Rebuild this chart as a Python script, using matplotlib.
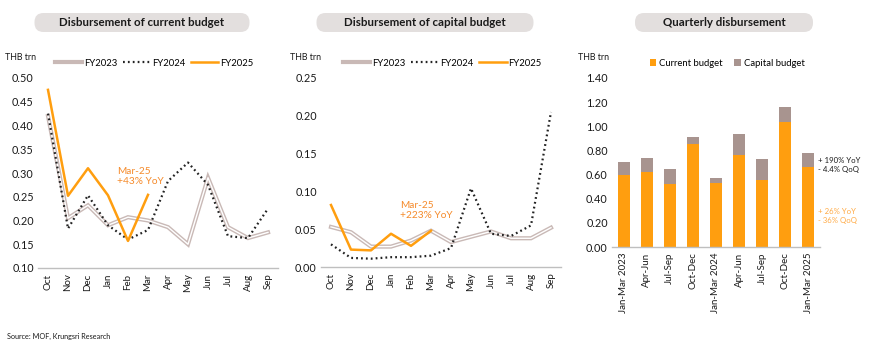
import matplotlib.pyplot as plt
from matplotlib.patches import FancyBboxPatch

plt.rcParams['font.family'] = ['Lato', 'DejaVu Sans']

months = ['Oct', 'Nov', 'Dec', 'Jan', 'Feb', 'Mar', 'Apr', 'May', 'Jun', 'Jul', 'Aug', 'Sep']

cur_fy2023 = [0.42, 0.205, 0.232, 0.19, 0.207, 0.20, 0.186, 0.15, 0.29, 0.186, 0.163, 0.175]
cur_fy2024 = [0.425, 0.183, 0.253, 0.19, 0.16, 0.18, 0.283, 0.322, 0.275, 0.167, 0.163, 0.225]
cur_fy2025 = [0.475, 0.252, 0.31, 0.253, 0.157, 0.254]

cap_fy2023 = [0.053, 0.046, 0.027, 0.027, 0.035, 0.048, 0.033, 0.040, 0.047, 0.038, 0.038, 0.052]
cap_fy2024 = [0.030, 0.012, 0.011, 0.013, 0.013, 0.015, 0.025, 0.104, 0.044, 0.041, 0.055, 0.205]
cap_fy2025 = [0.082, 0.023, 0.022, 0.044, 0.028, 0.048]

quarters = ['Jan-Mar 2023', 'Apr-Jun', 'Jul-Sep', 'Oct-Dec', 'Jan-Mar 2024',
            'Apr-Jun', 'Jul-Sep', 'Oct-Dec', 'Jan-Mar 2025']
q_current = [0.60, 0.625, 0.52, 0.855, 0.528, 0.76, 0.555, 1.033, 0.66]
q_capital = [0.105, 0.112, 0.125, 0.055, 0.042, 0.173, 0.175, 0.127, 0.12]

ORANGE = '#FF9E0F'
GREY23 = '#c9b9b6'
CAPGREY = '#a8948f'
TXT = '#1a1a1a'

fig = plt.figure(figsize=(8.7, 3.58), dpi=100)


def px_axes(left, top, right, bottom):
    W, H = 870, 358
    return fig.add_axes([left / W, 1 - bottom / H, (right - left) / W, (bottom - top) / H])


def style(ax):
    for s in ['top', 'right', 'left']:
        ax.spines[s].set_visible(False)
    ax.spines['bottom'].set_color('#bfbfbf')
    ax.spines['bottom'].set_linewidth(1.0)
    ax.tick_params(length=0, labelsize=7.8, colors=TXT, pad=3)
    ax.tick_params(axis='x', labelsize=7, pad=4)


def title_box(cx, cy, w, text):
    x0 = (cx - w / 2) / 100
    y0 = (358 - cy - 9.5) / 100
    p = FancyBboxPatch((x0, y0), w / 100, 0.19, boxstyle='round,pad=0,rounding_size=0.09',
                       transform=fig.dpi_scale_trans, facecolor='#e3dfde', edgecolor='none')
    fig.patches.append(p)
    fig.text(cx / 870, 1 - cy / 358, text, ha='center', va='center', fontsize=8.3,
             fontweight='bold', color=TXT)


def line_panel(ax, d23, d24, d25):
    x = range(len(months))
    ax.plot(x, d23, color=GREY23, lw=3.0, solid_joinstyle='miter', label='FY2023')
    ax.plot(x, d23, color='white', lw=1.0)
    ax.plot(x, d24, color='#222222', lw=1.6, ls=(0, (0.8, 1.4)), label='FY2024')
    ax.plot(range(len(d25)), d25, color=ORANGE, lw=1.8, label='FY2025')
    ax.set_xticks(list(x))
    ax.set_xticklabels(months, rotation=90)
    ax.set_xlim(-0.5, 11.5)
    h, l = ax.get_legend_handles_labels()
    return h, l


# panel 1
ax1 = px_axes(38, 78, 278, 268)
style(ax1)
h, l = line_panel(ax1, cur_fy2023, cur_fy2024, cur_fy2025)
ax1.set_ylim(0.10, 0.50)
ax1.set_yticks([0.10, 0.15, 0.20, 0.25, 0.30, 0.35, 0.40, 0.45, 0.50])
ax1.yaxis.set_major_formatter(plt.FuncFormatter(lambda v, p: f'{v:.2f}'))
ax1.legend(h, l, loc='center left', bbox_to_anchor=(50 / 870, 1 - 63 / 358),
           bbox_transform=fig.transFigure, ncol=3, frameon=False, fontsize=6.8,
           handlelength=2.9, handletextpad=0.2, columnspacing=0.6, borderpad=0)
ax1.annotate('Mar-25\n+43% YoY', xy=(3.45, 0.272), fontsize=7.3, color='#F58A2A',
             ha='left', va='bottom', linespacing=1.15)
fig.text(5 / 870, 1 - 57 / 358, 'THB trn', fontsize=6.4, color=TXT, va='center')
title_box(142, 22.5, 215, 'Disbursement of current budget')

# panel 2
ax2 = px_axes(321, 78, 561, 267)
style(ax2)
h, l = line_panel(ax2, cap_fy2023, cap_fy2024, cap_fy2025)
ax2.set_ylim(0.0, 0.25)
ax2.set_yticks([0.0, 0.05, 0.10, 0.15, 0.20, 0.25])
ax2.yaxis.set_major_formatter(plt.FuncFormatter(lambda v, p: f'{v:.2f}'))
ax2.legend(h, l, loc='center left', bbox_to_anchor=(338 / 870, 1 - 63 / 358),
           bbox_transform=fig.transFigure, ncol=3, frameon=False, fontsize=6.8,
           handlelength=2.9, handletextpad=0.2, columnspacing=0.6, borderpad=0)
ax2.annotate('Mar-25\n+223% YoY', xy=(3.45, 0.062), fontsize=7.3, color='#F58A2A',
             ha='left', va='bottom', linespacing=1.15)
fig.text(290 / 870, 1 - 57 / 358, 'THB trn', fontsize=6.4, color=TXT, va='center')
title_box(425, 22.5, 217, 'Disbursement of capital budget')

# panel 3
ax3 = px_axes(612, 78, 820, 247)
style(ax3)
xq = range(len(quarters))
ax3.bar(xq, q_current, width=0.52, color=ORANGE, label='Current budget')
ax3.bar(xq, q_capital, width=0.52, bottom=q_current, color=CAPGREY, label='Capital budget')
ax3.set_xticks(list(xq))
ax3.set_xticklabels(quarters, rotation=90)
ax3.set_xlim(-0.5, 8.5)
ax3.set_ylim(0, 1.40)
ax3.set_yticks([0, 0.2, 0.4, 0.6, 0.8, 1.0, 1.2, 1.4])
ax3.yaxis.set_major_formatter(plt.FuncFormatter(lambda v, p: f'{v:.2f}'))
ax3.legend(loc='center left', bbox_to_anchor=(645 / 870, 1 - 63 / 358),
           bbox_transform=fig.transFigure, ncol=2, frameon=False, fontsize=6.8,
           handlelength=0.7, handleheight=0.7, handletextpad=0.3, columnspacing=1.2,
           borderpad=0)
fig.text(578 / 870, 1 - 57 / 358, 'THB trn', fontsize=6.4, color=TXT, va='center')
fig.text(818 / 870, 1 - 165 / 358, '+ 190% YoY\n- 4.4% QoQ', fontsize=5.6, color=TXT,
         va='center', ha='left', linespacing=1.3)
fig.text(818 / 870, 1 - 216 / 358, '+ 26% YoY\n- 36% QoQ', fontsize=5.6, color='#FFAA44',
         va='center', ha='left', linespacing=1.3)
title_box(724, 22.5, 178, 'Quarterly disbursement')

fig.text(7 / 870, 1 - 336 / 358, 'Source: MOF, Krungsri Research', fontsize=5.2, color=TXT,
         va='center')

fig.savefig('out.png', dpi=100, facecolor='white')
